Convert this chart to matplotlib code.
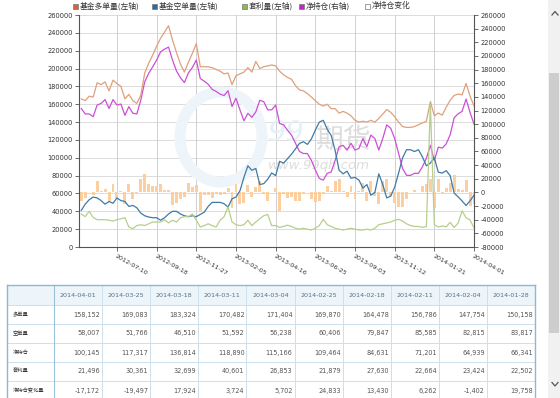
import numpy as np
import pandas as pd
import matplotlib
matplotlib.use('Agg')
import matplotlib.pyplot as plt
from matplotlib.patches import Rectangle, Ellipse
from matplotlib.lines import Line2D
from matplotlib.transforms import blended_transform_factory

plt.rcParams['font.family'] = ['DejaVu Sans', 'Noto Sans CJK SC']

# weekly data, 2012-05-08 .. 2014-04-01
dates = pd.date_range('2012-05-08', '2014-04-01', freq='7D')

long_pos = [166000, 164000, 169000, 168000, 184000, 182000, 185000, 175000, 187000, 183000,
            180000, 166000, 171000, 164000, 161000, 170000, 195000, 206000, 215000, 225000,
            234000, 241000, 248000, 232000, 218000, 205000, 196000, 207000, 217000, 228000,
            202000, 202000, 202000, 201000, 199000, 197000, 194000, 195000, 182000, 192000,
            194000, 196000, 201000, 196000, 208000, 200000, 202000, 203000, 204000, 203000,
            197000, 193000, 190000, 188000, 181000, 176000, 175000, 172000, 168000, 164000,
            160000, 158000, 160000, 155000, 155000, 150000, 152000, 150000, 147000, 142000,
            140000, 141000, 140000, 142000, 140000, 144000, 149000, 154000, 151000, 146000,
            140000, 135000, 134000, 134000, 135000, 137000, 139000, 141000, 163000, 147000,
            150158, 147754, 156786, 164478, 169870, 171404, 170482, 183324, 169083, 158152]

short_pos = [41000, 48000, 53000, 56000, 55000, 52000, 48000, 51000, 49000, 55000,
             52000, 51000, 45500, 46600, 44000, 38000, 35000, 33600, 32800, 32800,
             30000, 32800, 37000, 40000, 40000, 37000, 35000, 34000, 35000, 34000,
             36500, 39000, 45500, 50000, 50000, 50000, 48500, 44800, 54000, 56000,
             63000, 78000, 91000, 86000, 88000, 70000, 71000, 76000, 83000, 80000,
             96000, 94000, 99000, 104000, 110000, 116000, 118000, 115000, 121000, 131000,
             140000, 142000, 132000, 125000, 108000, 86000, 82000, 85000, 77000, 78000,
             75000, 66000, 70000, 58000, 61000, 82000, 70000, 55000, 57000, 67000,
             83000, 100000, 109000, 109000, 107000, 109000, 101000, 91000, 94000, 100000,
             83817, 82815, 85585, 79847, 60406, 56238, 51592, 46510, 51766, 58007]

arb = [37000, 34000, 40000, 33000, 30600, 30600, 30600, 30000, 29000, 30600,
       31700, 32800, 22400, 20500, 24000, 25000, 24000, 26000, 28000, 28000,
       28000, 30600, 27000, 30000, 28000, 32800, 34000, 34000, 37000, 30000,
       22400, 24000, 26000, 24000, 22400, 30000, 34000, 45000, 28000, 25000,
       24000, 25000, 30000, 24000, 28000, 31700, 35000, 36500, 24000, 24000,
       22000, 23000, 24500, 23000, 21000, 20000, 21000, 20000, 19000, 21000,
       24000, 31000, 25000, 23000, 21000, 20000, 19000, 20000, 21000, 20000,
       19000, 19000, 20000, 19000, 21000, 25000, 26000, 27000, 28000, 30000,
       31000, 29000, 26000, 24000, 23000, 23000, 22000, 23000, 160000, 25000,
       22502, 23424, 22664, 27630, 21879, 26853, 40601, 32699, 30361, 21496]

net_pos = [123000, 115000, 115000, 111000, 128000, 130500, 136000, 123000, 136000, 128000,
           129500, 113000, 125700, 116000, 115000, 135000, 162000, 174600, 184000, 194000,
           206000, 210000, 213000, 194000, 178000, 168000, 161000, 175000, 183000, 194000,
           167000, 163000, 158500, 151000, 148000, 144000, 142000, 149000, 126000, 138000,
           121000, 105000, 116000, 110000, 118000, 135000, 133000, 121000, 121000, 128000,
           101000, 99000, 91000, 84000, 72000, 60000, 57000, 57000, 47000, 33000,
           20500, 18000, 28000, 30000, 47000, 67000, 69000, 62000, 72000, 62000,
           64500, 79000, 67000, 84000, 79000, 62000, 79000, 99000, 94000, 79000,
           57000, 35000, 25000, 25000, 28000, 28000, 37600, 50000, 69000, 46583,
           66341, 64939, 71201, 84631, 109464, 115166, 118890, 136814, 117317, 100145]

net_chg = [-12000, -8000, 500, -4000, 17000, 2500, 5500, -13000, 13000, -8000,
           1500, -16500, 12700, -9700, -1000, 20000, 27000, 12600, 9400, 10000,
           12000, 4000, 3000, -19000, -16000, -10000, -7000, 14000, 8000, 11000,
           -27000, -4000, -4500, -7500, -3000, -4000, -2000, 7000, -23000, 12000,
           -17000, -16000, 11000, -6000, 8000, 17000, -2000, -12000, 500, 7000,
           -27000, -2000, -8000, -7000, -12000, -12000, -3000, 500, -10000, -14000,
           -12500, -2500, 10000, 2000, 17000, 20000, 2000, -7000, 10000, -10000,
           2500, 14500, -12000, 17000, -5000, -17000, 17000, 20000, -5000, -15000,
           -22000, -22000, -10000, 500, 3000, 500, 9600, 12400, 19000, -22400,
           19758, -1402, 6262, 13430, 24833, 5702, 3724, 17924, -19497, -17172]

xtick_dates = ['2012-07-10', '2012-09-18', '2012-11-27', '2013-02-05', '2013-04-16',
               '2013-06-25', '2013-09-03', '2013-11-12', '2014-01-21', '2014-04-01']

# table below the chart
tbl_dates = ['2014-04-01', '2014-03-25', '2014-03-18', '2014-03-11', '2014-03-04',
             '2014-02-25', '2014-02-18', '2014-02-11', '2014-02-04', '2014-01-28']
tbl_labels = ['多单量', '空单量', '净持仓', '套利量', '净持仓变化量']
tbl_long = [158152, 169083, 183324, 170482, 171404, 169870, 164478, 156786, 147754, 150158]
tbl_short = [58007, 51766, 46510, 51592, 56238, 60406, 79847, 85585, 82815, 83817]
tbl_net = [100145, 117317, 136814, 118890, 115166, 109464, 84631, 71201, 64939, 66341]
tbl_arb = [21496, 30361, 32699, 40601, 26853, 21879, 27630, 22664, 23424, 22502]
tbl_chg = [-17172, -19497, 17924, 3724, 5702, 24833, 13430, 6262, -1402, 19758]

legend_names = ['基金多单量(左轴)', '基金空单量(左轴)', '套利量(左轴)', '净持仓(右轴)', '净持仓变化']

W, H = 560, 398
fig = plt.figure(figsize=(5.6, 3.98), dpi=100)
fig.patch.set_facecolor('white')


def fx(px):
    return px / W


def fy(py):
    return 1 - py / H


L, R, T, B = 79, 474, 15, 247
ax2 = fig.add_axes([fx(L), fy(B), fx(R) - fx(L), fy(T) - fy(B)])
ax = ax2.twinx()
ax.yaxis.tick_left()
ax2.yaxis.tick_right()
ax.set_zorder(ax2.get_zorder() + 1)
ax.patch.set_visible(False)

left_ticks = list(range(0, 260001, 20000))
right_ticks = list(range(-80000, 260001, 20000))

# grid (drawn in the bottom axes so it stays under everything)
bl = blended_transform_factory(ax2.transAxes, ax.transData)
for t in left_ticks:
    ax2.plot([0, 1], [t, t], transform=bl, color='#dcdcdc', lw=0.7, zorder=0)
for d in xtick_dates:
    ax2.axvline(pd.Timestamp(d), color='#d0d0d0', lw=0.7, zorder=0)

# watermark
wm = fig.transFigure
ax2.add_patch(Ellipse((fx(221), fy(137)), 2 * 41 / W, 2 * 45 / H, transform=wm,
                      fill=False, lw=8, ec='#eef5fa', zorder=0.5))
ax2.text(fx(268), fy(133), '99', transform=wm, fontsize=21, style='italic',
         color='#e6f0f7', va='center', ha='left', zorder=0.6)
ax2.text(fx(316), fy(140), '期货', transform=wm, fontsize=20, family=['Noto Sans CJK SC'],
         color='#dddddd', va='center', ha='left', zorder=0.6)
ax2.text(fx(268), fy(166), 'www.99qh.com', transform=wm, fontsize=9.5, style='italic',
         color='#dddddd', va='center', ha='left', zorder=0.6)

# right axis series
ax2.bar(dates, net_chg, width=5.2, color='#fbcf9f', zorder=2)
ax2.plot(dates, net_pos, color='#cc4fd6', lw=0.9, zorder=3)

# left axis series
ax.plot(dates, long_pos, color='#e0a07a', lw=0.9)
ax.plot(dates, short_pos, color='#3f7aa6', lw=0.9)
ax.plot(dates, arb, color='#b6cf8c', lw=0.9)

xmin = pd.Timestamp('2012-05-04')
xmax = pd.Timestamp('2014-04-01')
ax2.set_xlim(xmin, xmax)
ax.set_ylim(0, 260000)
ax2.set_ylim(-80000, 260000)

ax.set_yticks(left_ticks)
ax.set_yticklabels([str(t) for t in left_ticks])
ax2.set_yticks(right_ticks)
ax2.set_yticklabels([str(t) for t in right_ticks])

xt = [pd.Timestamp(d) for d in xtick_dates]
ax2.set_xticks(xt)
ax2.set_xticklabels(xtick_dates, rotation=-30, ha='left', va='top', rotation_mode='anchor')

for a in (ax, ax2):
    a.tick_params(axis='both', labelsize=4.8, colors='#555555', length=3, width=0.6,
                  pad=1.5, labelcolor='#333333')
    for s in a.spines.values():
        s.set_visible(False)
ax.spines['left'].set_visible(True)
ax.spines['left'].set_color('#555555')
ax.spines['left'].set_linewidth(0.8)
ax2.spines['right'].set_visible(True)
ax2.spines['right'].set_color('#555555')
ax2.spines['right'].set_linewidth(0.8)
ax2.spines['bottom'].set_visible(True)
ax2.spines['bottom'].set_color('#555555')
ax2.spines['bottom'].set_linewidth(0.8)
ax2.tick_params(axis='x', labelsize=4.6, pad=2)

# legend
leg_cols = ['#d8643e', '#2b6a9a', '#8fb84f', '#c025c8', 'white']
leg_x = [75, 154, 244, 301, 367]
for c, x0, name in zip(leg_cols, leg_x, legend_names):
    fig.add_artist(Rectangle((fx(x0 - 2.5), fy(8.5)), 5 / W, 5 / H, transform=fig.transFigure,
                             fc=c, ec='#777777', lw=0.5))
    fig.text(fx(x0 + 5), fy(6.3), name, fontsize=5.6, color='#333333', va='center', ha='left',
             family=['Noto Sans CJK SC', 'DejaVu Sans'])

# table
tx0, tx1 = 7, 535
label_w = 47
col_w = (tx1 - tx0 - label_w) / len(tbl_dates)
row_y = [285, 305, 324, 343, 362, 381, 400]
fig.add_artist(Rectangle((fx(tx0), fy(row_y[1])), (tx1 - tx0) / W, (row_y[1] - row_y[0]) / H,
                         transform=fig.transFigure, fc='#edf5fb', ec='none'))
inner = '#cde0ec'
for y in row_y[1:-1]:
    fig.add_artist(Line2D([fx(tx0), fx(tx1)], [fy(y), fy(y)], color=inner, lw=0.7))
for k in range(1, len(tbl_dates)):
    xx = tx0 + label_w + k * col_w
    fig.add_artist(Line2D([fx(xx), fx(xx)], [fy(row_y[0]), fy(400)], color=inner, lw=0.7))
xx = tx0 + label_w
fig.add_artist(Line2D([fx(xx), fx(xx)], [fy(row_y[0]), fy(400)], color='#9cc2d8', lw=0.8))
outer = '#8cb8d2'
fig.add_artist(Line2D([fx(tx0), fx(tx1)], [fy(row_y[0]), fy(row_y[0])], color=outer, lw=1))
fig.add_artist(Line2D([fx(tx0), fx(tx0)], [fy(row_y[0]), fy(400)], color=outer, lw=1))
fig.add_artist(Line2D([fx(tx1), fx(tx1)], [fy(row_y[0]), fy(400)], color=outer, lw=1))

for k, d in enumerate(tbl_dates):
    cx = tx0 + label_w + (k + 0.5) * col_w
    fig.text(fx(cx), fy(295.5), d, fontsize=4.6, color='#55707f', ha='center', va='center')

rows = [tbl_long, tbl_short, tbl_net, tbl_arb, tbl_chg]
for r, (lab, vals) in enumerate(zip(tbl_labels, rows)):
    cy = (row_y[r + 1] + row_y[r + 2]) / 2
    fig.text(fx(tx0 + 6), fy(cy), lab, fontsize=3.8, color='#333333', ha='left', va='center',
             family=['Noto Sans CJK SC'])
    for k, v in enumerate(vals):
        rx = tx0 + label_w + (k + 1) * col_w - 2
        fig.text(fx(rx), fy(cy), f'{v:,}', fontsize=4.7, color='#555555', ha='right',
                 va='center')

# scrollbar on the right edge
fig.add_artist(Rectangle((fx(548), 0), 12 / W, 1, transform=fig.transFigure,
                         fc='#f1f1f1', ec='none'))
fig.add_artist(Rectangle((fx(549), fy(333)), 10 / W, (333 - 73) / H, transform=fig.transFigure,
                         fc='#cdcdcd', ec='none'))
fig.add_artist(Line2D([fx(552), fx(555), fx(558)], [fy(15), fy(11.5), fy(15)],
                      color='#555555', lw=0.9))
fig.add_artist(Line2D([fx(552), fx(555), fx(558)], [fy(382.5), fy(386), fy(382.5)],
                      color='#555555', lw=0.9))

fig.savefig('out.png', dpi=100)
